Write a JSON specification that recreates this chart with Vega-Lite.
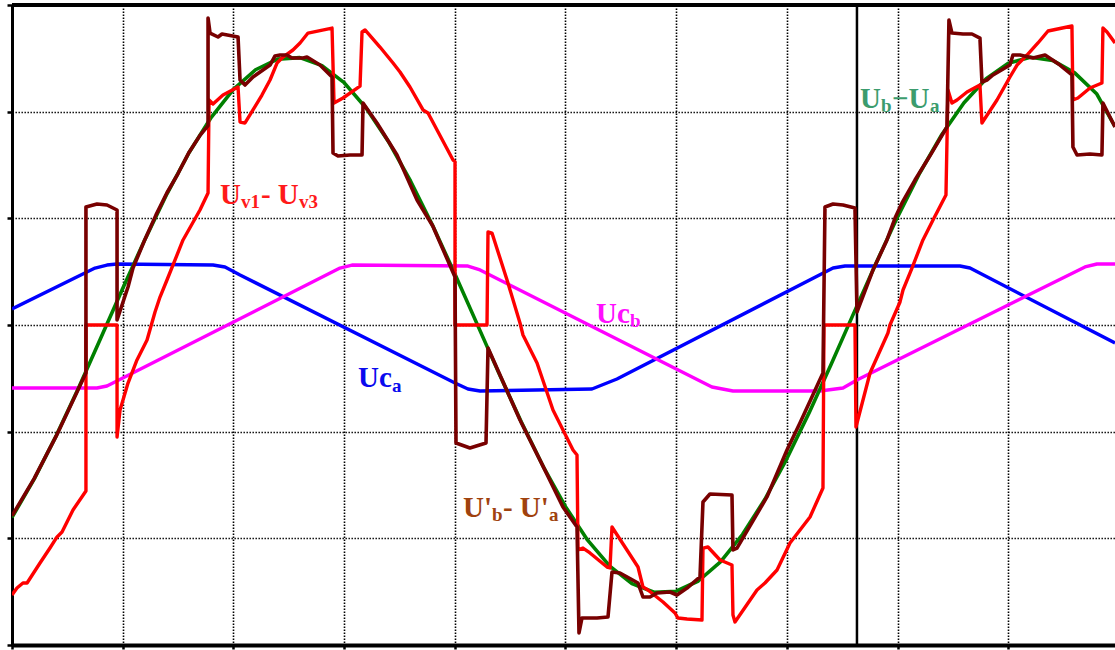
{
  "$schema": "https://vega.github.io/schema/vega-lite/v6.json",
  "autosize": "none",
  "width": 1103,
  "height": 640,
  "padding": {"left": 12, "top": 5, "right": 0, "bottom": 5},
  "background": "white",
  "config": {
    "view": {"stroke": null},
    "axis": {
      "labels": false,
      "title": null,
      "domainColor": "black",
      "tickColor": "black",
      "grid": true,
      "gridColor": "black",
      "gridDash": [1.4, 1.6],
      "gridWidth": 1.6,
      "gridOpacity": 1
    }
  },
  "datasets": {
    "wave": [
      {"s": "Uca", "x": 0, "y": 0.15},
      {"s": "Uca", "x": 0.75, "y": 0.534},
      {"s": "Uca", "x": 0.858, "y": 0.562},
      {"s": "Uca", "x": 0.949, "y": 0.572},
      {"s": "Uca", "x": 1.816, "y": 0.562},
      {"s": "Uca", "x": 1.924, "y": 0.544},
      {"s": "Uca", "x": 2.06, "y": 0.469},
      {"s": "Uca", "x": 4.002, "y": -0.544},
      {"s": "Uca", "x": 4.119, "y": -0.6},
      {"s": "Uca", "x": 4.228, "y": -0.619},
      {"s": "Uca", "x": 5.239, "y": -0.6},
      {"s": "Uca", "x": 5.465, "y": -0.506},
      {"s": "Uca", "x": 7.417, "y": 0.534},
      {"s": "Uca", "x": 7.525, "y": 0.553},
      {"s": "Uca", "x": 8.564, "y": 0.553},
      {"s": "Uca", "x": 8.654, "y": 0.534},
      {"s": "Uca", "x": 9.964, "y": -0.169},

      {"s": "Ucb", "x": 0, "y": -0.591},
      {"s": "Ucb", "x": 0.768, "y": -0.591},
      {"s": "Ucb", "x": 0.858, "y": -0.572},
      {"s": "Ucb", "x": 2.963, "y": 0.534},
      {"s": "Ucb", "x": 3.071, "y": 0.562},
      {"s": "Ucb", "x": 4.119, "y": 0.553},
      {"s": "Ucb", "x": 4.228, "y": 0.516},
      {"s": "Ucb", "x": 6.323, "y": -0.581},
      {"s": "Ucb", "x": 6.513, "y": -0.619},
      {"s": "Ucb", "x": 7.299, "y": -0.619},
      {"s": "Ucb", "x": 7.507, "y": -0.591},
      {"s": "Ucb", "x": 7.633, "y": -0.516},
      {"s": "Ucb", "x": 9.693, "y": 0.544},
      {"s": "Ucb", "x": 9.801, "y": 0.572},
      {"s": "Ucb", "x": 9.964, "y": 0.572},

      {"s": "Ub-Ua", "x": 0, "y": -1.804},
      {"s": "Ub-Ua", "x": 0.2, "y": -1.445},
      {"s": "Ub-Ua", "x": 0.4, "y": -1.037},
      {"s": "Ub-Ua", "x": 0.6, "y": -0.592},
      {"s": "Ub-Ua", "x": 0.8, "y": -0.127},
      {"s": "Ub-Ua", "x": 1.0, "y": 0.343},
      {"s": "Ub-Ua", "x": 1.2, "y": 0.8},
      {"s": "Ub-Ua", "x": 1.4, "y": 1.23},
      {"s": "Ub-Ua", "x": 1.6, "y": 1.617},
      {"s": "Ub-Ua", "x": 1.8, "y": 1.947},
      {"s": "Ub-Ua", "x": 2.0, "y": 2.209},
      {"s": "Ub-Ua", "x": 2.2, "y": 2.393},
      {"s": "Ub-Ua", "x": 2.4, "y": 2.493},
      {"s": "Ub-Ua", "x": 2.6, "y": 2.507},
      {"s": "Ub-Ua", "x": 2.8, "y": 2.432},
      {"s": "Ub-Ua", "x": 3.0, "y": 2.272},
      {"s": "Ub-Ua", "x": 3.2, "y": 2.032},
      {"s": "Ub-Ua", "x": 3.4, "y": 1.721},
      {"s": "Ub-Ua", "x": 3.6, "y": 1.35},
      {"s": "Ub-Ua", "x": 3.8, "y": 0.932},
      {"s": "Ub-Ua", "x": 4.0, "y": 0.481},
      {"s": "Ub-Ua", "x": 4.2, "y": 0.013},
      {"s": "Ub-Ua", "x": 4.4, "y": -0.456},
      {"s": "Ub-Ua", "x": 4.6, "y": -0.908},
      {"s": "Ub-Ua", "x": 4.8, "y": -1.329},
      {"s": "Ub-Ua", "x": 5.0, "y": -1.703},
      {"s": "Ub-Ua", "x": 5.2, "y": -2.017},
      {"s": "Ub-Ua", "x": 5.4, "y": -2.261},
      {"s": "Ub-Ua", "x": 5.6, "y": -2.425},
      {"s": "Ub-Ua", "x": 5.8, "y": -2.505},
      {"s": "Ub-Ua", "x": 6.0, "y": -2.496},
      {"s": "Ub-Ua", "x": 6.2, "y": -2.4},
      {"s": "Ub-Ua", "x": 6.4, "y": -2.22},
      {"s": "Ub-Ua", "x": 6.6, "y": -1.962},
      {"s": "Ub-Ua", "x": 6.8, "y": -1.636},
      {"s": "Ub-Ua", "x": 7.0, "y": -1.252},
      {"s": "Ub-Ua", "x": 7.2, "y": -0.824},
      {"s": "Ub-Ua", "x": 7.4, "y": -0.367},
      {"s": "Ub-Ua", "x": 7.6, "y": 0.102},
      {"s": "Ub-Ua", "x": 7.8, "y": 0.568},
      {"s": "Ub-Ua", "x": 8.0, "y": 1.014},
      {"s": "Ub-Ua", "x": 8.2, "y": 1.425},
      {"s": "Ub-Ua", "x": 8.4, "y": 1.786},
      {"s": "Ub-Ua", "x": 8.6, "y": 2.083},
      {"s": "Ub-Ua", "x": 8.8, "y": 2.309},
      {"s": "Ub-Ua", "x": 9.0, "y": 2.453},
      {"s": "Ub-Ua", "x": 9.2, "y": 2.511},
      {"s": "Ub-Ua", "x": 9.4, "y": 2.481},
      {"s": "Ub-Ua", "x": 9.6, "y": 2.364},
      {"s": "Ub-Ua", "x": 9.8, "y": 2.165},
      {"s": "Ub-Ua", "x": 9.964, "y": 1.86},

      {"s": "Uv1-Uv3", "x": 0, "y": -2.531},
      {"s": "Uv1-Uv3", "x": 0.045, "y": -2.466},
      {"s": "Uv1-Uv3", "x": 0.099, "y": -2.419},
      {"s": "Uv1-Uv3", "x": 0.136, "y": -2.419},
      {"s": "Uv1-Uv3", "x": 0.253, "y": -2.231},
      {"s": "Uv1-Uv3", "x": 0.343, "y": -2.091},
      {"s": "Uv1-Uv3", "x": 0.407, "y": -1.987},
      {"s": "Uv1-Uv3", "x": 0.452, "y": -1.941},
      {"s": "Uv1-Uv3", "x": 0.551, "y": -1.734},
      {"s": "Uv1-Uv3", "x": 0.668, "y": -1.556},
      {"s": "Uv1-Uv3", "x": 0.668, "y": 0},
      {"s": "Uv1-Uv3", "x": 0.949, "y": 0},
      {"s": "Uv1-Uv3", "x": 0.949, "y": -1.05},
      {"s": "Uv1-Uv3", "x": 0.976, "y": -0.797},
      {"s": "Uv1-Uv3", "x": 1.048, "y": -0.544},
      {"s": "Uv1-Uv3", "x": 1.129, "y": -0.328},
      {"s": "Uv1-Uv3", "x": 1.22, "y": -0.141},
      {"s": "Uv1-Uv3", "x": 1.292, "y": 0.122},
      {"s": "Uv1-Uv3", "x": 1.337, "y": 0.262},
      {"s": "Uv1-Uv3", "x": 1.4, "y": 0.422},
      {"s": "Uv1-Uv3", "x": 1.545, "y": 0.797},
      {"s": "Uv1-Uv3", "x": 1.698, "y": 1.078},
      {"s": "Uv1-Uv3", "x": 1.771, "y": 1.237},
      {"s": "Uv1-Uv3", "x": 1.78, "y": 2.109},
      {"s": "Uv1-Uv3", "x": 1.816, "y": 2.072},
      {"s": "Uv1-Uv3", "x": 1.906, "y": 2.156},
      {"s": "Uv1-Uv3", "x": 2.042, "y": 2.231},
      {"s": "Uv1-Uv3", "x": 2.06, "y": 1.903},
      {"s": "Uv1-Uv3", "x": 2.105, "y": 1.894},
      {"s": "Uv1-Uv3", "x": 2.177, "y": 2.016},
      {"s": "Uv1-Uv3", "x": 2.258, "y": 2.156},
      {"s": "Uv1-Uv3", "x": 2.331, "y": 2.297},
      {"s": "Uv1-Uv3", "x": 2.394, "y": 2.456},
      {"s": "Uv1-Uv3", "x": 2.448, "y": 2.512},
      {"s": "Uv1-Uv3", "x": 2.538, "y": 2.578},
      {"s": "Uv1-Uv3", "x": 2.602, "y": 2.644},
      {"s": "Uv1-Uv3", "x": 2.674, "y": 2.737},
      {"s": "Uv1-Uv3", "x": 2.891, "y": 2.784},
      {"s": "Uv1-Uv3", "x": 2.909, "y": 2.081},
      {"s": "Uv1-Uv3", "x": 2.99, "y": 2.128},
      {"s": "Uv1-Uv3", "x": 3.144, "y": 2.24},
      {"s": "Uv1-Uv3", "x": 3.162, "y": 2.747},
      {"s": "Uv1-Uv3", "x": 3.189, "y": 2.766},
      {"s": "Uv1-Uv3", "x": 3.324, "y": 2.606},
      {"s": "Uv1-Uv3", "x": 3.442, "y": 2.456},
      {"s": "Uv1-Uv3", "x": 3.505, "y": 2.372},
      {"s": "Uv1-Uv3", "x": 3.595, "y": 2.231},
      {"s": "Uv1-Uv3", "x": 3.713, "y": 2.016},
      {"s": "Uv1-Uv3", "x": 3.758, "y": 1.988},
      {"s": "Uv1-Uv3", "x": 3.984, "y": 1.547},
      {"s": "Uv1-Uv3", "x": 4.002, "y": 1.53},
      {"s": "Uv1-Uv3", "x": 4.002, "y": 0},
      {"s": "Uv1-Uv3", "x": 4.291, "y": 0},
      {"s": "Uv1-Uv3", "x": 4.3, "y": 0.872},
      {"s": "Uv1-Uv3", "x": 4.336, "y": 0.862},
      {"s": "Uv1-Uv3", "x": 4.472, "y": 0.422},
      {"s": "Uv1-Uv3", "x": 4.589, "y": 0.019},
      {"s": "Uv1-Uv3", "x": 4.616, "y": -0.094},
      {"s": "Uv1-Uv3", "x": 4.743, "y": -0.356},
      {"s": "Uv1-Uv3", "x": 4.887, "y": -0.797},
      {"s": "Uv1-Uv3", "x": 5.068, "y": -1.172},
      {"s": "Uv1-Uv3", "x": 5.104, "y": -1.219},
      {"s": "Uv1-Uv3", "x": 5.113, "y": -2.109},
      {"s": "Uv1-Uv3", "x": 5.158, "y": -2.091},
      {"s": "Uv1-Uv3", "x": 5.221, "y": -2.137},
      {"s": "Uv1-Uv3", "x": 5.375, "y": -2.269},
      {"s": "Uv1-Uv3", "x": 5.402, "y": -2.278},
      {"s": "Uv1-Uv3", "x": 5.42, "y": -1.894},
      {"s": "Uv1-Uv3", "x": 5.655, "y": -2.269},
      {"s": "Uv1-Uv3", "x": 5.7, "y": -2.456},
      {"s": "Uv1-Uv3", "x": 5.745, "y": -2.484},
      {"s": "Uv1-Uv3", "x": 5.881, "y": -2.597},
      {"s": "Uv1-Uv3", "x": 5.989, "y": -2.7},
      {"s": "Uv1-Uv3", "x": 6.016, "y": -2.747},
      {"s": "Uv1-Uv3", "x": 6.098, "y": -2.756},
      {"s": "Uv1-Uv3", "x": 6.233, "y": -2.766},
      {"s": "Uv1-Uv3", "x": 6.242, "y": -2.091},
      {"s": "Uv1-Uv3", "x": 6.287, "y": -2.081},
      {"s": "Uv1-Uv3", "x": 6.396, "y": -2.203},
      {"s": "Uv1-Uv3", "x": 6.504, "y": -2.25},
      {"s": "Uv1-Uv3", "x": 6.513, "y": -2.719},
      {"s": "Uv1-Uv3", "x": 6.531, "y": -2.784},
      {"s": "Uv1-Uv3", "x": 6.73, "y": -2.484},
      {"s": "Uv1-Uv3", "x": 6.802, "y": -2.419},
      {"s": "Uv1-Uv3", "x": 6.911, "y": -2.297},
      {"s": "Uv1-Uv3", "x": 7.028, "y": -2.044},
      {"s": "Uv1-Uv3", "x": 7.209, "y": -1.8},
      {"s": "Uv1-Uv3", "x": 7.326, "y": -1.528},
      {"s": "Uv1-Uv3", "x": 7.335, "y": 0},
      {"s": "Uv1-Uv3", "x": 7.615, "y": 0},
      {"s": "Uv1-Uv3", "x": 7.624, "y": -0.956},
      {"s": "Uv1-Uv3", "x": 7.751, "y": -0.45},
      {"s": "Uv1-Uv3", "x": 7.913, "y": -0.075},
      {"s": "Uv1-Uv3", "x": 7.931, "y": 0},
      {"s": "Uv1-Uv3", "x": 8.022, "y": 0.216},
      {"s": "Uv1-Uv3", "x": 8.049, "y": 0.328},
      {"s": "Uv1-Uv3", "x": 8.13, "y": 0.534},
      {"s": "Uv1-Uv3", "x": 8.229, "y": 0.797},
      {"s": "Uv1-Uv3", "x": 8.32, "y": 0.984},
      {"s": "Uv1-Uv3", "x": 8.437, "y": 1.219},
      {"s": "Uv1-Uv3", "x": 8.455, "y": 2.203},
      {"s": "Uv1-Uv3", "x": 8.491, "y": 2.081},
      {"s": "Uv1-Uv3", "x": 8.537, "y": 2.109},
      {"s": "Uv1-Uv3", "x": 8.627, "y": 2.184},
      {"s": "Uv1-Uv3", "x": 8.744, "y": 2.25},
      {"s": "Uv1-Uv3", "x": 8.762, "y": 1.894},
      {"s": "Uv1-Uv3", "x": 8.898, "y": 2.109},
      {"s": "Uv1-Uv3", "x": 9.015, "y": 2.325},
      {"s": "Uv1-Uv3", "x": 9.079, "y": 2.437},
      {"s": "Uv1-Uv3", "x": 9.169, "y": 2.531},
      {"s": "Uv1-Uv3", "x": 9.268, "y": 2.644},
      {"s": "Uv1-Uv3", "x": 9.359, "y": 2.756},
      {"s": "Uv1-Uv3", "x": 9.575, "y": 2.803},
      {"s": "Uv1-Uv3", "x": 9.584, "y": 2.109},
      {"s": "Uv1-Uv3", "x": 9.629, "y": 2.128},
      {"s": "Uv1-Uv3", "x": 9.738, "y": 2.222},
      {"s": "Uv1-Uv3", "x": 9.846, "y": 2.269},
      {"s": "Uv1-Uv3", "x": 9.855, "y": 2.784},
      {"s": "Uv1-Uv3", "x": 9.892, "y": 2.747},
      {"s": "Uv1-Uv3", "x": 9.964, "y": 2.644},

      {"s": "U'b-U'a", "x": 0, "y": -1.79},
      {"s": "U'b-U'a", "x": 0.2, "y": -1.44},
      {"s": "U'b-U'a", "x": 0.4, "y": -1.04},
      {"s": "U'b-U'a", "x": 0.6, "y": -0.6},
      {"s": "U'b-U'a", "x": 0.668, "y": -0.45},
      {"s": "U'b-U'a", "x": 0.668, "y": 1.106},
      {"s": "U'b-U'a", "x": 0.768, "y": 1.134},
      {"s": "U'b-U'a", "x": 0.858, "y": 1.125},
      {"s": "U'b-U'a", "x": 0.949, "y": 1.078},
      {"s": "U'b-U'a", "x": 0.949, "y": 0.047},
      {"s": "U'b-U'a", "x": 0.994, "y": 0.188},
      {"s": "U'b-U'a", "x": 1.048, "y": 0.356},
      {"s": "U'b-U'a", "x": 1.093, "y": 0.534},
      {"s": "U'b-U'a", "x": 1.2, "y": 0.8},
      {"s": "U'b-U'a", "x": 1.3, "y": 1.03},
      {"s": "U'b-U'a", "x": 1.4, "y": 1.24},
      {"s": "U'b-U'a", "x": 1.5, "y": 1.42},
      {"s": "U'b-U'a", "x": 1.6, "y": 1.62},
      {"s": "U'b-U'a", "x": 1.7, "y": 1.78},
      {"s": "U'b-U'a", "x": 1.771, "y": 1.87},
      {"s": "U'b-U'a", "x": 1.771, "y": 2.878},
      {"s": "U'b-U'a", "x": 1.789, "y": 2.737},
      {"s": "U'b-U'a", "x": 1.861, "y": 2.7},
      {"s": "U'b-U'a", "x": 1.897, "y": 2.728},
      {"s": "U'b-U'a", "x": 2.042, "y": 2.7},
      {"s": "U'b-U'a", "x": 2.06, "y": 2.297},
      {"s": "U'b-U'a", "x": 2.105, "y": 2.25},
      {"s": "U'b-U'a", "x": 2.177, "y": 2.325},
      {"s": "U'b-U'a", "x": 2.331, "y": 2.437},
      {"s": "U'b-U'a", "x": 2.376, "y": 2.522},
      {"s": "U'b-U'a", "x": 2.421, "y": 2.531},
      {"s": "U'b-U'a", "x": 2.484, "y": 2.531},
      {"s": "U'b-U'a", "x": 2.529, "y": 2.503},
      {"s": "U'b-U'a", "x": 2.629, "y": 2.503},
      {"s": "U'b-U'a", "x": 2.665, "y": 2.512},
      {"s": "U'b-U'a", "x": 2.782, "y": 2.437},
      {"s": "U'b-U'a", "x": 2.891, "y": 2.325},
      {"s": "U'b-U'a", "x": 2.9, "y": 1.612},
      {"s": "U'b-U'a", "x": 2.945, "y": 1.584},
      {"s": "U'b-U'a", "x": 3.053, "y": 1.594},
      {"s": "U'b-U'a", "x": 3.162, "y": 1.594},
      {"s": "U'b-U'a", "x": 3.171, "y": 2.081},
      {"s": "U'b-U'a", "x": 3.297, "y": 1.894},
      {"s": "U'b-U'a", "x": 3.478, "y": 1.594},
      {"s": "U'b-U'a", "x": 3.659, "y": 1.172},
      {"s": "U'b-U'a", "x": 3.8, "y": 0.93},
      {"s": "U'b-U'a", "x": 4.002, "y": 0.45},
      {"s": "U'b-U'a", "x": 4.011, "y": -1.106},
      {"s": "U'b-U'a", "x": 4.137, "y": -1.153},
      {"s": "U'b-U'a", "x": 4.282, "y": -1.106},
      {"s": "U'b-U'a", "x": 4.3, "y": -0.216},
      {"s": "U'b-U'a", "x": 4.589, "y": -0.891},
      {"s": "U'b-U'a", "x": 4.8, "y": -1.33},
      {"s": "U'b-U'a", "x": 4.977, "y": -1.706},
      {"s": "U'b-U'a", "x": 5.104, "y": -1.894},
      {"s": "U'b-U'a", "x": 5.122, "y": -2.887},
      {"s": "U'b-U'a", "x": 5.149, "y": -2.747},
      {"s": "U'b-U'a", "x": 5.285, "y": -2.747},
      {"s": "U'b-U'a", "x": 5.384, "y": -2.737},
      {"s": "U'b-U'a", "x": 5.42, "y": -2.316},
      {"s": "U'b-U'a", "x": 5.492, "y": -2.325},
      {"s": "U'b-U'a", "x": 5.655, "y": -2.419},
      {"s": "U'b-U'a", "x": 5.7, "y": -2.55},
      {"s": "U'b-U'a", "x": 5.763, "y": -2.55},
      {"s": "U'b-U'a", "x": 5.827, "y": -2.512},
      {"s": "U'b-U'a", "x": 5.944, "y": -2.503},
      {"s": "U'b-U'a", "x": 6.007, "y": -2.531},
      {"s": "U'b-U'a", "x": 6.098, "y": -2.466},
      {"s": "U'b-U'a", "x": 6.215, "y": -2.362},
      {"s": "U'b-U'a", "x": 6.242, "y": -1.659},
      {"s": "U'b-U'a", "x": 6.305, "y": -1.584},
      {"s": "U'b-U'a", "x": 6.504, "y": -1.594},
      {"s": "U'b-U'a", "x": 6.513, "y": -2.109},
      {"s": "U'b-U'a", "x": 6.549, "y": -2.091},
      {"s": "U'b-U'a", "x": 6.82, "y": -1.612},
      {"s": "U'b-U'a", "x": 7.001, "y": -1.172},
      {"s": "U'b-U'a", "x": 7.118, "y": -0.919},
      {"s": "U'b-U'a", "x": 7.326, "y": -0.45},
      {"s": "U'b-U'a", "x": 7.344, "y": 1.106},
      {"s": "U'b-U'a", "x": 7.417, "y": 1.134},
      {"s": "U'b-U'a", "x": 7.507, "y": 1.125},
      {"s": "U'b-U'a", "x": 7.615, "y": 1.097},
      {"s": "U'b-U'a", "x": 7.633, "y": 0.122},
      {"s": "U'b-U'a", "x": 7.778, "y": 0.516},
      {"s": "U'b-U'a", "x": 7.904, "y": 0.797},
      {"s": "U'b-U'a", "x": 7.977, "y": 1.003},
      {"s": "U'b-U'a", "x": 8.04, "y": 1.144},
      {"s": "U'b-U'a", "x": 8.157, "y": 1.359},
      {"s": "U'b-U'a", "x": 8.3, "y": 1.6},
      {"s": "U'b-U'a", "x": 8.446, "y": 1.856},
      {"s": "U'b-U'a", "x": 8.464, "y": 2.859},
      {"s": "U'b-U'a", "x": 8.491, "y": 2.737},
      {"s": "U'b-U'a", "x": 8.591, "y": 2.728},
      {"s": "U'b-U'a", "x": 8.672, "y": 2.728},
      {"s": "U'b-U'a", "x": 8.744, "y": 2.69},
      {"s": "U'b-U'a", "x": 8.762, "y": 2.278},
      {"s": "U'b-U'a", "x": 8.807, "y": 2.297},
      {"s": "U'b-U'a", "x": 8.862, "y": 2.344},
      {"s": "U'b-U'a", "x": 9.015, "y": 2.437},
      {"s": "U'b-U'a", "x": 9.042, "y": 2.531},
      {"s": "U'b-U'a", "x": 9.106, "y": 2.531},
      {"s": "U'b-U'a", "x": 9.223, "y": 2.503},
      {"s": "U'b-U'a", "x": 9.332, "y": 2.531},
      {"s": "U'b-U'a", "x": 9.467, "y": 2.437},
      {"s": "U'b-U'a", "x": 9.575, "y": 2.344},
      {"s": "U'b-U'a", "x": 9.584, "y": 1.669},
      {"s": "U'b-U'a", "x": 9.621, "y": 1.594},
      {"s": "U'b-U'a", "x": 9.738, "y": 1.603},
      {"s": "U'b-U'a", "x": 9.846, "y": 1.594},
      {"s": "U'b-U'a", "x": 9.855, "y": 2.081},
      {"s": "U'b-U'a", "x": 9.964, "y": 1.856}
    ],
    "labelMain": [
      {"s": "Uv1-Uv3", "x": 1.879, "y": 1.134, "t": "U"},
      {"s": "Uv1-Uv3", "x": 2.249, "y": 1.134, "t": "- U"},
      {"s": "Ub-Ua", "x": 7.66, "y": 2.034, "t": "U"},
      {"s": "Ub-Ua", "x": 7.949, "y": 2.034, "t": "−U"},
      {"s": "Uca", "x": 3.126, "y": -0.581, "t": "Uc"},
      {"s": "Ucb", "x": 5.276, "y": 0.019, "t": "Uc"},
      {"s": "U'b-U'a", "x": 4.074, "y": -1.8, "t": "U'"},
      {"s": "U'b-U'a", "x": 4.435, "y": -1.8, "t": "- U'"}
    ],
    "labelSub": [
      {"s": "Uv1-Uv3", "x": 2.069, "y": 1.097, "t": "v1"},
      {"s": "Uv1-Uv3", "x": 2.593, "y": 1.097, "t": "v3"},
      {"s": "Ub-Ua", "x": 7.85, "y": 1.997, "t": "b"},
      {"s": "Ub-Ua", "x": 8.293, "y": 1.997, "t": "a"},
      {"s": "Uca", "x": 3.433, "y": -0.628, "t": "a"},
      {"s": "Ucb", "x": 5.583, "y": -0.019, "t": "b"},
      {"s": "U'b-U'a", "x": 4.336, "y": -1.837, "t": "b"},
      {"s": "U'b-U'a", "x": 4.851, "y": -1.837, "t": "a"}
    ]
  },
  "layer": [
    {
      "data": {"values": [{"t0": 7.633}]},
      "mark": {"type": "rule", "color": "black", "strokeWidth": 2.5},
      "encoding": {
        "x": {
          "field": "t0",
          "type": "quantitative",
          "scale": {"domain": [0, 9.964], "nice": false, "zero": false},
          "axis": {
            "orient": "bottom",
            "values": [0, 1, 2, 3, 4, 5, 6, 7, 8, 9],
            "domainWidth": 4,
            "tickWidth": 2.5,
            "tickSize": 4
          }
        }
      }
    },
    {
      "data": {"name": "wave"},
      "transform": [{"filter": "datum.s === 'Uca'"}],
      "mark": {"type": "line", "color": "#0000ff", "strokeWidth": 3.4, "strokeJoin": "round", "clip": true},
      "encoding": {
        "x": {"field": "x", "type": "quantitative"},
        "y": {
          "field": "y",
          "type": "quantitative",
          "scale": {"domain": [-3, 3], "nice": false, "zero": false},
          "axis": {
            "values": [-3, -2, -1, 0, 1, 2, 3],
            "domainWidth": 3,
            "tickWidth": 2.5,
            "tickSize": 5
          }
        },
        "order": {"value": null}
      }
    },
    {
      "data": {"name": "wave"},
      "transform": [{"filter": "datum.s === 'Ucb'"}],
      "mark": {"type": "line", "color": "#ff00ff", "strokeWidth": 3.4, "strokeJoin": "round", "clip": true},
      "encoding": {
        "x": {"field": "x", "type": "quantitative"},
        "y": {"field": "y", "type": "quantitative"},
        "order": {"value": null}
      }
    },
    {
      "data": {"name": "wave"},
      "transform": [{"filter": "datum.s === 'Ub-Ua'"}],
      "mark": {"type": "line", "color": "#008000", "strokeWidth": 3.6, "strokeJoin": "round", "clip": true},
      "encoding": {
        "x": {"field": "x", "type": "quantitative"},
        "y": {"field": "y", "type": "quantitative"},
        "order": {"value": null}
      }
    },
    {
      "data": {"name": "wave"},
      "transform": [{"filter": "datum.s === 'Uv1-Uv3'"}],
      "mark": {"type": "line", "color": "#ff0000", "strokeWidth": 3.4, "strokeJoin": "round", "clip": true},
      "encoding": {
        "x": {"field": "x", "type": "quantitative"},
        "y": {"field": "y", "type": "quantitative"},
        "order": {"value": null}
      }
    },
    {
      "data": {"name": "wave"},
      "transform": [{"filter": "datum.s === \"U'b-U'a\""}],
      "mark": {"type": "line", "color": "#780000", "strokeWidth": 3.6, "strokeJoin": "round", "clip": true},
      "encoding": {
        "x": {"field": "x", "type": "quantitative"},
        "y": {"field": "y", "type": "quantitative"},
        "order": {"value": null}
      }
    },
    {
      "data": {"name": "labelMain"},
      "mark": {"type": "text", "font": "Liberation Serif", "fontWeight": "bold", "fontSize": 29, "align": "left", "baseline": "alphabetic"},
      "encoding": {
        "x": {"field": "x", "type": "quantitative"},
        "y": {"field": "y", "type": "quantitative"},
        "text": {"field": "t"},
        "color": {
          "field": "s",
          "type": "nominal",
          "legend": null,
          "scale": {
            "domain": ["Uv1-Uv3", "Ub-Ua", "Uca", "Ucb", "U'b-U'a"],
            "range": ["#ff1a1a", "#3c9c6e", "#0a0aee", "#ff10ff", "#a0420e"]
          }
        }
      }
    },
    {
      "data": {"name": "labelSub"},
      "mark": {"type": "text", "font": "Liberation Serif", "fontWeight": "bold", "fontSize": 19, "align": "left", "baseline": "alphabetic"},
      "encoding": {
        "x": {"field": "x", "type": "quantitative"},
        "y": {"field": "y", "type": "quantitative"},
        "text": {"field": "t"},
        "color": {"field": "s", "type": "nominal", "legend": null}
      }
    },
    {
      "data": {"values": [{"top": 3}]},
      "mark": {"type": "rule", "color": "black", "strokeWidth": 4},
      "encoding": {
        "y": {"field": "top", "type": "quantitative"}
      }
    }
  ]
}
